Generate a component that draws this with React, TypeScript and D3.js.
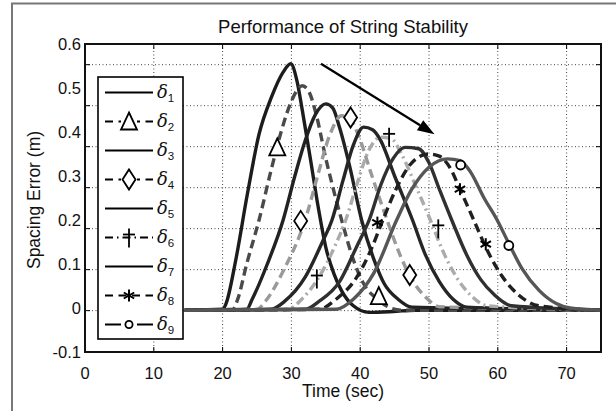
import React from "react";
import * as d3 from "d3";

// time (sec), spacing error (m)
const delta1: [number, number][] = [
  [14.5, -0.005], [20, -0.003], [20.5, 0.01], [21.9, 0.108], [23.6, 0.259], [25.3, 0.395],
  [27.1, 0.479], [28.8, 0.536], [29.9, 0.555], [30.8, 0.517], [31.6, 0.448], [32.8, 0.335],
  [33.9, 0.229], [35.0, 0.138], [36.2, 0.077], [37.3, 0.039], [39.0, 0.005], [41.3, -0.01],
  [44.8, -0.008], [48, -0.005], [75, -0.005],
];
const delta2: [number, number][] = [
  [14.5, -0.005], [21.5, -0.003], [22.2, 0.02], [23.5, 0.1], [25.3, 0.2], [27, 0.31],
  [28.5, 0.4], [30, 0.47], [31.6, 0.505], [32.6, 0.49], [33.6, 0.44], [35, 0.34],
  [37.3, 0.2], [39, 0.11], [40.5, 0.055], [42.5, 0.02], [44, 0.003], [46, -0.005], [75, -0.005],
];
const delta3: [number, number][] = [
  [14.5, -0.005], [23.5, -0.003], [24.3, 0.02], [26.5, 0.1], [28.8, 0.2], [30.5, 0.3],
  [32, 0.38], [33.5, 0.44], [35, 0.464], [36, 0.455], [37, 0.41], [38.5, 0.32],
  [40.2, 0.2], [42, 0.11], [43.5, 0.055], [45.5, 0.02], [47.5, 0.002], [75, -0.005],
];
const delta4: [number, number][] = [
  [14.5, -0.005], [25, -0.003], [26.2, 0.015], [29, 0.09], [32, 0.2], [33.8, 0.3],
  [35.5, 0.39], [37.3, 0.437], [38.5, 0.43], [39.8, 0.39], [41.5, 0.31], [43.9, 0.2],
  [45.8, 0.12], [47.5, 0.065], [49.5, 0.025], [51.5, 0.003], [75, -0.005],
];
const delta5: [number, number][] = [
  [14.5, -0.005], [27, -0.003], [29, 0.015], [32, 0.07], [34.5, 0.15], [35.9, 0.2],
  [37.5, 0.29], [39, 0.37], [40.5, 0.411], [41.8, 0.405], [43, 0.38], [45, 0.3],
  [47.6, 0.2], [49.5, 0.12], [51.5, 0.06], [53.5, 0.02], [55.5, 0.002], [75, -0.005],
];
const delta6: [number, number][] = [
  [14.5, -0.005], [29.5, -0.003], [31.5, 0.02], [34, 0.07], [36.3, 0.14], [37.9, 0.2],
  [39.5, 0.28], [41.3, 0.36], [42.9, 0.388], [44.5, 0.385], [46, 0.35], [48, 0.28],
  [50.2, 0.2], [52, 0.13], [54, 0.07], [56, 0.03], [58.5, 0.005], [75, -0.005],
];
const delta7: [number, number][] = [
  [14.5, -0.005], [32, -0.003], [34, 0.015], [37, 0.06], [39.5, 0.14], [41.3, 0.2],
  [43, 0.28], [44.8, 0.34], [46.5, 0.365], [48.5, 0.362], [50, 0.33], [51.5, 0.27],
  [53.3, 0.2], [55.5, 0.12], [57.5, 0.065], [59.5, 0.03], [62, 0.005], [75, -0.005],
];
const delta8: [number, number][] = [
  [14.5, -0.005], [34, -0.003], [36.5, 0.02], [39.5, 0.07], [41.5, 0.13], [43.3, 0.2],
  [45.2, 0.27], [47.5, 0.33], [49.9, 0.35], [51.5, 0.345], [53, 0.32], [54.5, 0.27],
  [56.5, 0.2], [58.5, 0.13], [60.5, 0.075], [63, 0.03], [66, 0.005], [75, -0.005],
];
const delta9: [number, number][] = [
  [14.5, -0.005], [36.5, -0.003], [39, 0.02], [42, 0.08], [45.3, 0.2], [47.5, 0.27],
  [50, 0.32], [52.7, 0.339], [54.5, 0.335], [56, 0.31], [58, 0.25], [59.9, 0.2],
  [61.5, 0.15], [63.5, 0.09], [66, 0.04], [68.5, 0.01], [70.5, 0], [75, -0.005],
];

// marker positions along curves
const triangleMarks: [number, number][] = [[27.95, 0.365], [42.7, 0.027]];
const diamondMarks: [number, number][] = [[38.6, 0.433], [31.35, 0.198], [47.2, 0.075]];
const daggerMarks: [number, number][] = [[44.2, 0.389], [33.7, 0.067], [51.35, 0.181]];
const starMarks: [number, number][] = [[42.5, 0.194], [54.5, 0.27], [58.25, 0.145]];
const circleMarks: [number, number][] = [[54.6, 0.325], [61.6, 0.142]];

const arrowFrom: [number, number] = [34.3, 0.555];
const arrowTo: [number, number] = [50.8, 0.395];

const xTicks = [0, 10, 20, 30, 40, 50, 60, 70];
const yTicks = [-0.1, 0, 0.1, 0.2, 0.3, 0.4, 0.5, 0.6];
const yTickLabels = ["-0.1", "0", "0.1", "0.2", "0.3", "0.4", "0.5", "0.6"];

const series = [
  { name: "1", data: delta1, color: "#1c1c1c", dash: "", mark: "" },
  { name: "2", data: delta2, color: "#4a4a4a", dash: "9,5", mark: "tri" },
  { name: "3", data: delta3, color: "#222222", dash: "", mark: "" },
  { name: "4", data: delta4, color: "#9a9a9a", dash: "9,5", mark: "dia" },
  { name: "5", data: delta5, color: "#262626", dash: "", mark: "" },
  { name: "6", data: delta6, color: "#ababab", dash: "9,4,2,4", mark: "dag" },
  { name: "7", data: delta7, color: "#303030", dash: "", mark: "" },
  { name: "8", data: delta8, color: "#202020", dash: "9,5", mark: "star" },
  { name: "9", data: delta9, color: "#565656", dash: "", mark: "circ" },
];

const W = 616;
const H = 411;
const left = 85, right = 601, top = 44, bottom = 352;
const font = "Liberation Sans, Arial, sans-serif";

function Marker({ kind, x, y, s = 1 }: { kind: string; x: number; y: number; s?: number }) {
  const st = { fill: "#fff", stroke: "#000", strokeWidth: 1.8 };
  if (kind === "tri")
    return <path d={`M${x},${y - 9 * s}L${x + 8 * s},${y + 8 * s}L${x - 8 * s},${y + 8 * s}Z`} {...st} />;
  if (kind === "dia")
    return <path d={`M${x},${y - 10 * s}L${x + 6.5 * s},${y}L${x},${y + 10 * s}L${x - 6.5 * s},${y}Z`} {...st} />;
  if (kind === "dag")
    return (
      <g stroke="#000" strokeWidth={1.8}>
        <line x1={x} x2={x} y1={y - 9 * s} y2={y + 10 * s} />
        <line x1={x - 6 * s} x2={x + 6 * s} y1={y - 3 * s} y2={y - 3 * s} />
      </g>
    );
  if (kind === "star") {
    const r = 6 * s;
    return (
      <g stroke="#000" strokeWidth={2}>
        {[90, 30, 150].map((a) => {
          const rad = (a * Math.PI) / 180;
          return (
            <line key={a} x1={x - r * Math.cos(rad)} y1={y - r * Math.sin(rad)}
              x2={x + r * Math.cos(rad)} y2={y + r * Math.sin(rad)} />
          );
        })}
      </g>
    );
  }
  if (kind === "circ") return <circle cx={x} cy={y} r={4.5 * s} {...st} />;
  return null;
}

export default function App() {
  const x = d3.scaleLinear().domain([0, 75]).range([left, right]);
  const y = d3.scaleLinear().domain([-0.1, 0.6]).range([bottom, top]);
  // the printed grid is offset from the tick labels
  const gridY = d3.scaleLinear().domain([0, 0.6]).range([y(-0.006), y(0.553)]);
  const gridVals = gridY.ticks(6);

  const line = d3
    .line<[number, number]>()
    .x((d) => x(d[0]))
    .y((d) => y(d[1]))
    .curve(d3.curveMonotoneX);

  const markSets: Record<string, [number, number][]> = {
    tri: triangleMarks, dia: diamondMarks, dag: daggerMarks, star: starMarks, circ: circleMarks,
  };

  const ax1 = x(arrowFrom[0]), ay1 = y(arrowFrom[1]);
  const ax2 = x(arrowTo[0]), ay2 = y(arrowTo[1]);
  const ang = Math.atan2(ay2 - ay1, ax2 - ax1);
  const hl = 17, hw = 6;
  const bx = ax2 - hl * Math.cos(ang), by = ay2 - hl * Math.sin(ang);
  const head = `M${ax2},${ay2}L${bx + hw * Math.sin(ang)},${by - hw * Math.cos(ang)}L${bx - hw * Math.sin(ang)},${by + hw * Math.cos(ang)}Z`;

  const legX = 98, legY = 77, legW = 85, rowH = 29;

  return (
    <svg width={W} height={H} style={{ position: "absolute", left: 0, top: 0, background: "#fff" }} fontFamily={font}>
      <rect width={W} height={H} fill="#fff" />
      <path d={`M12,${H}V3.5H${W}`} fill="none" stroke="#777" strokeWidth={2} />

      <text x={(left + right) / 2} y={33} textAnchor="middle" fontSize={18.5} fill="#111">
        Performance of String Stability
      </text>

      <defs>
        <clipPath id="plot">
          <rect x={left} y={top} width={right - left} height={bottom - top} />
        </clipPath>
      </defs>

      {/* grid */}
      <g stroke="#444" strokeWidth={1} strokeDasharray="1,2.5">
        {xTicks.filter((t) => t > 0).map((t) => (
          <line key={t} x1={x(t)} x2={x(t)} y1={top} y2={bottom} />
        ))}
        {gridVals.map((v) => (
          <line key={v} x1={left} x2={right} y1={gridY(v)} y2={gridY(v)} />
        ))}
      </g>
      <g stroke="#000" strokeWidth={1}>
        {xTicks.map((t) => (
          <g key={t}>
            <line x1={x(t)} x2={x(t)} y1={bottom} y2={bottom - 5} />
            <line x1={x(t)} x2={x(t)} y1={top} y2={top + 5} />
          </g>
        ))}
        {gridVals.map((v) => (
          <g key={v}>
            <line x1={left} x2={left + 5} y1={gridY(v)} y2={gridY(v)} />
            <line x1={right} x2={right - 5} y1={gridY(v)} y2={gridY(v)} />
          </g>
        ))}
      </g>

      {/* curves */}
      <g clipPath="url(#plot)" fill="none" strokeWidth={3.4} strokeLinejoin="round">
        {series.map((s) => (
          <path key={s.name} d={line(s.data) ?? ""} stroke={s.color} strokeDasharray={s.dash || undefined} />
        ))}
      </g>

      {/* markers */}
      {Object.entries(markSets).map(([k, pts]) =>
        pts.map((p, i) => <Marker key={k + i} kind={k} x={x(p[0])} y={y(p[1])} />)
      )}

      {/* arrow */}
      <line x1={ax1} y1={ay1} x2={bx} y2={by} stroke="#000" strokeWidth={2.2} />
      <path d={head} fill="#000" />

      <rect x={left} y={top} width={right - left} height={bottom - top} fill="none" stroke="#111" strokeWidth={2} />

      {/* axis labels */}
      {xTicks.map((t) => (
        <text key={t} x={x(t)} y={379} textAnchor="middle" fontSize={16.5} fill="#111">
          {t}
        </text>
      ))}
      {yTicks.map((v, i) => (
        <text key={v} x={81} y={y(v) + 6} textAnchor="end" fontSize={16.5} fill="#111">
          {yTickLabels[i]}
        </text>
      ))}
      <text x={(left + right) / 2} y={397} textAnchor="middle" fontSize={17.5} fill="#111">
        Time (sec)
      </text>
      <text transform={`translate(40,${(top + bottom) / 2 + 2}) rotate(-90)`} textAnchor="middle" fontSize={17.5} fill="#111">
        Spacing Error (m)
      </text>

      {/* legend */}
      <rect x={legX} y={legY} width={legW} height={rowH * 9 + 1} fill="#fff" stroke="#000" strokeWidth={1.6} />
      {series.map((s, i) => {
        const cy = legY + rowH / 2 + 1 + i * rowH;
        return (
          <g key={s.name}>
            <line x1={105} x2={153} y1={cy} y2={cy} stroke="#000" strokeWidth={2.2}
              strokeDasharray={s.dash ? (s.dash === "9,4,2,4" ? "8,4,1.5,4" : "8,5.5") : undefined} />
            {s.mark && (
              <>
                {s.mark !== "dag" && s.mark !== "star" && <rect x={121} y={cy - 3} width={16} height={6} fill="#fff" />}
                <Marker kind={s.mark} x={129} y={cy} s={s.mark === "circ" ? 0.8 : 1} />
              </>
            )}
            <text x={157} y={cy + 5} fontSize={18} fontStyle="italic" fill="#111" fontFamily="DejaVu Serif, serif">
              δ
              <tspan fontSize={11.5} dy={4} fontStyle="normal" fontFamily={font}>{s.name}</tspan>
            </text>
          </g>
        );
      })}
    </svg>
  );
}
